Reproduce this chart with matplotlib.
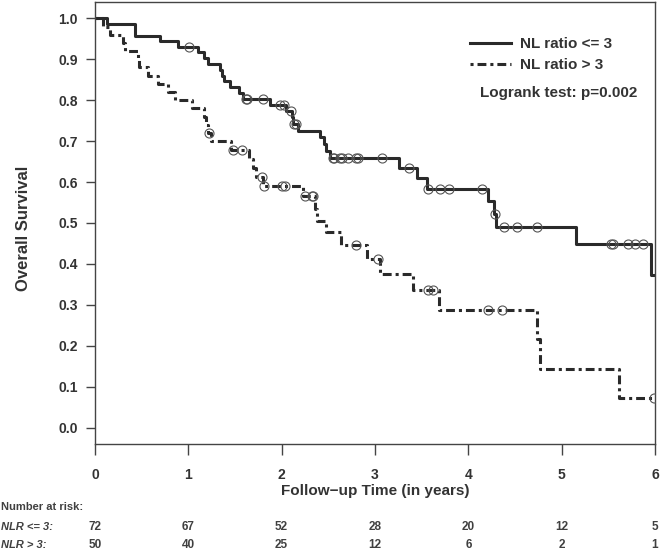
import numpy as np
import matplotlib
matplotlib.use("Agg")
import matplotlib.pyplot as plt
from matplotlib import transforms

# Kaplan-Meier steps: time of each drop and survival after it
low_times = [0.125, 0.43, 0.70, 0.89, 1.10, 1.17, 1.21, 1.34, 1.36, 1.38, 1.45, 1.54, 1.59,
             1.88, 2.05, 2.11, 2.12, 2.18, 2.41, 2.45, 2.48, 2.52, 3.26, 3.45, 3.56,
             4.21, 4.28, 4.30, 5.15, 5.96]
low_surv = [0.986, 0.958, 0.944, 0.931, 0.917, 0.902, 0.888, 0.874, 0.860, 0.846, 0.832, 0.818, 0.804,
            0.789, 0.773, 0.758, 0.742, 0.725, 0.709, 0.692, 0.676, 0.659, 0.635, 0.610, 0.584,
            0.553, 0.523, 0.490, 0.449, 0.374]
low_censor = [1.01, 1.62, 1.63, 1.80, 1.98, 2.02, 2.10, 2.13, 2.15, 2.55, 2.56, 2.63, 2.65,
              2.71, 2.80, 2.82, 3.07, 3.36, 3.57, 3.70, 3.79, 4.15, 4.29, 4.38, 4.52, 4.74,
              5.53, 5.55, 5.71, 5.79, 5.87]

high_times = [0.09, 0.16, 0.30, 0.32, 0.46, 0.47, 0.57, 0.67, 0.785, 0.86, 1.04, 1.17, 1.19,
              1.21, 1.24, 1.46, 1.65, 1.69, 1.73, 1.80, 2.23, 2.36, 2.38, 2.47, 2.64, 2.91,
              3.05, 3.41, 3.69, 4.74, 4.77, 5.61]
high_surv = [0.98, 0.96, 0.94, 0.92, 0.90, 0.88, 0.86, 0.84, 0.82, 0.80, 0.78, 0.76, 0.74,
             0.72, 0.70, 0.679, 0.657, 0.635, 0.613, 0.590, 0.565, 0.535, 0.505, 0.477, 0.446, 0.412,
             0.375, 0.337, 0.288, 0.216, 0.144, 0.072]
high_censor = [1.22, 1.48, 1.58, 1.79, 1.81, 2.00, 2.04, 2.25, 2.33, 2.34, 2.80, 3.03,
               3.57, 3.62, 4.21, 4.36, 5.99]

x_ticks = [0, 1, 2, 3, 4, 5, 6]
y_ticks = [0.0, 0.1, 0.2, 0.3, 0.4, 0.5, 0.6, 0.7, 0.8, 0.9, 1.0]
risk_low = [72, 67, 52, 28, 20, 12, 5]
risk_high = [50, 40, 25, 12, 6, 2, 1]

labels = ["NL ratio <= 3", "NL ratio > 3"]
logrank_text = "Logrank test: p=0.002"

plt.rcParams['font.family'] = ['Liberation Sans', 'DejaVu Sans']
plt.rcParams['font.weight'] = 'bold'

INK = "#2a2a2a"
TXT = "#333333"
RISK = "#404040"
W, H = 663, 552


def step_xy(times, surv, t_end):
    xs = [0.0] + list(times) + [t_end]
    ys = [1.0] + list(surv) + [surv[-1]]
    return xs, ys


def surv_at(times, surv, t):
    i = np.searchsorted(times, t, side="right") - 1
    return 1.0 if i < 0 else surv[i]


fig = plt.figure(figsize=(W / 100, H / 100), dpi=100)
ax = fig.add_axes([95 / W, 1 - 444 / H, 560 / W, 442 / H])

dashdot = (0, (1.0, 1.3, 2.9, 1.3))

xs, ys = step_xy(low_times, low_surv, 6)
ax.step(xs, ys, where="post", color=INK, lw=2.2, label=labels[0])
xs, ys = step_xy(high_times, high_surv, 6)
ax.step(xs, ys, where="post", color=INK, lw=2.2, linestyle=dashdot, label=labels[1])

for times, surv, cens in [(low_times, low_surv, low_censor), (high_times, high_surv, high_censor)]:
    cy = [surv_at(times, surv, c) for c in cens]
    ax.plot(cens, cy, "o", ms=6.5, mfc="none", mec="#555555", mew=0.8, zorder=3)

ax.set_xlim(0, 6)
ax.set_ylim(-0.04, 1.04)
ax.set_xticks(x_ticks)
ax.set_yticks(y_ticks)
ax.set_xticklabels([str(t) for t in x_ticks])
ax.set_yticklabels([f"{t:.1f}" for t in y_ticks])
ax.tick_params(axis="x", direction="out", length=7.7, width=1, color="#444444",
               labelsize=10, labelcolor=TXT, pad=9.5)
ax.tick_params(axis="y", direction="out", length=6.5, width=1, color="#444444",
               labelsize=10, labelcolor=TXT, pad=6)
for s in ax.spines.values():
    s.set_color("#444444")
    s.set_linewidth(1)

fig.text(24 / W, 1 - 228 / H, "Overall Survival", rotation=90, ha="center", va="center",
         fontsize=12, color=TXT)
fig.text(375 / W, 1 - 491 / H, "Follow\u2212up Time (in years)", ha="center", va="center",
         fontsize=11, color=TXT)

leg = ax.legend(loc="upper left", bbox_to_anchor=(470 / W, 1 - 37 / H),
                bbox_transform=fig.transFigure, frameon=False, fontsize=11,
                handlelength=2.7, handletextpad=0.55, labelspacing=0.45, borderpad=0,
                borderaxespad=0)
for t in leg.get_texts():
    t.set_color(TXT)
fig.text(480 / W, 1 - 93 / H, logrank_text, ha="left", va="center", fontsize=11, color=TXT)

# number at risk table under the axis
blend = transforms.blended_transform_factory(ax.transData, fig.transFigure)
fig.text(1 / W, 1 - 507 / H, "Number at risk:", ha="left", va="center", fontsize=8,
         color=RISK)
fig.text(1 / W, 1 - 527 / H, "NLR <= 3:", ha="left", va="center", fontsize=8, color=RISK,
         style="italic")
fig.text(1 / W, 1 - 545 / H, "NLR > 3:", ha="left", va="center", fontsize=8, color=RISK,
         style="italic")
for t, a, b in zip(x_ticks, risk_low, risk_high):
    ax.text(t, 1 - 527 / H, str(a), transform=blend, ha="center", va="center", fontsize=8.5,
            color=RISK)
    ax.text(t, 1 - 545 / H, str(b), transform=blend, ha="center", va="center", fontsize=8.5,
            color=RISK)

fig.savefig("out.png", dpi=100)
